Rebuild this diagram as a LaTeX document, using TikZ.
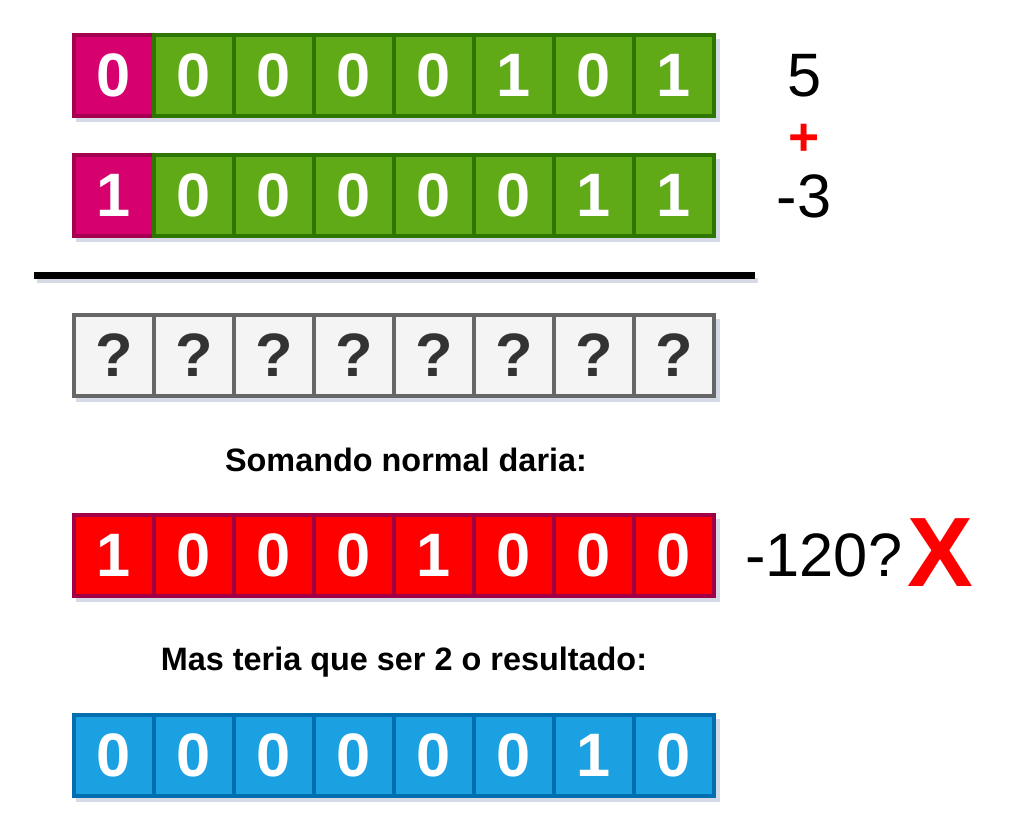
\documentclass[tikz,border=0pt]{standalone}
\usepackage{fontspec}
\setmainfont{Liberation Sans}
\definecolor{magfill}{HTML}{D6006F}
\definecolor{magline}{HTML}{A5004F}
\definecolor{grnfill}{HTML}{60A917}
\definecolor{grnline}{HTML}{2D7600}
\definecolor{gryfill}{HTML}{F4F4F4}
\definecolor{gryline}{HTML}{666666}
\definecolor{redfill}{HTML}{FF0000}
\definecolor{redline}{HTML}{A20046}
\definecolor{blufill}{HTML}{1BA1E2}
\definecolor{bluline}{HTML}{006EAF}
\definecolor{shadowc}{HTML}{C5CBDD}
\definecolor{qtext}{HTML}{333333}
\tikzset{
  cell/.style={rectangle, minimum width=60pt, minimum height=60.75pt, inner sep=0pt,
    line width=3pt, text=white, font=\bfseries\fontsize{46}{46}\selectfont},
  magcell/.style={cell, fill=magfill, draw=magline},
  grncell/.style={cell, fill=grnfill, draw=grnline},
  grycell/.style={cell, fill=gryfill, draw=gryline, text=qtext},
  redcell/.style={cell, fill=redfill, draw=redline},
  blucell/.style={cell, fill=blufill, draw=bluline},
  rowshadow/.style={fill=shadowc, opacity=0.7},
  lbl/.style={inner sep=0pt, font=\fontsize{46}{46}\selectfont},
  caption/.style={inner sep=0pt, font=\bfseries\fontsize{24.3}{24.3}\selectfont},
}
\begin{document}
\begin{tikzpicture}[x=0.75pt,y=-0.75pt]
\useasboundingbox (0,0) rectangle (1021,834);
% row shadows
\foreach \t in {33,153,313,513,713}{
  \fill[rowshadow] (76,\t+6) rectangle (720,\t+89);
}
% line shadow
\fill[rowshadow] (37,278) rectangle (758,283);
% row 1
\node[magcell] (r1c1) at (114,75.5) {0};
\foreach \d [count=\i from 2] in {0,0,0,0,1,0,1}{
  \node[grncell] (r1c\i) at ({114+80*(\i-1)},75.5) {\d};
}
% row 2
\node[magcell] (r2c1) at (114,195.5) {1};
\foreach \d [count=\i from 2] in {0,0,0,0,0,1,1}{
  \node[grncell] (r2c\i) at ({114+80*(\i-1)},195.5) {\d};
}
% rule
\draw[line width=5.25pt] (34,276) coordinate (la) -- (755,276) coordinate (lb);
% row 3
\foreach \i in {1,...,8}{
  \node[grycell] (r3c\i) at ({114+80*(\i-1)},355.5) {?};
}
% row 4
\foreach \d [count=\i] in {1,0,0,0,1,0,0,0}{
  \node[redcell] (r4c\i) at ({114+80*(\i-1)},555.5) {\d};
}
% row 5
\foreach \d [count=\i] in {0,0,0,0,0,0,1,0}{
  \node[blucell] (r5c\i) at ({114+80*(\i-1)},755.5) {\d};
}
% labels
\node[lbl] (five) at (805,76) {5};
\node[inner sep=0pt, text=red, font=\bfseries\fontsize{40}{40}\selectfont] (plus) at (804,140) {+};
\node[lbl] (mthree) at (804,196) {-3};
\node[lbl,anchor=west] (m120) at (745,555.5) {-120?};
\node[inner sep=0pt, text=red, font=\bfseries\fontsize{74}{74}\selectfont] (cross) at (940,553) {X};
% captions
\node[caption] (cap1) at (406,460) {Somando normal daria:};
\node[caption] (cap2) at (404,662) {Mas teria que ser 2 o resultado:};
\end{tikzpicture}
\end{document}
